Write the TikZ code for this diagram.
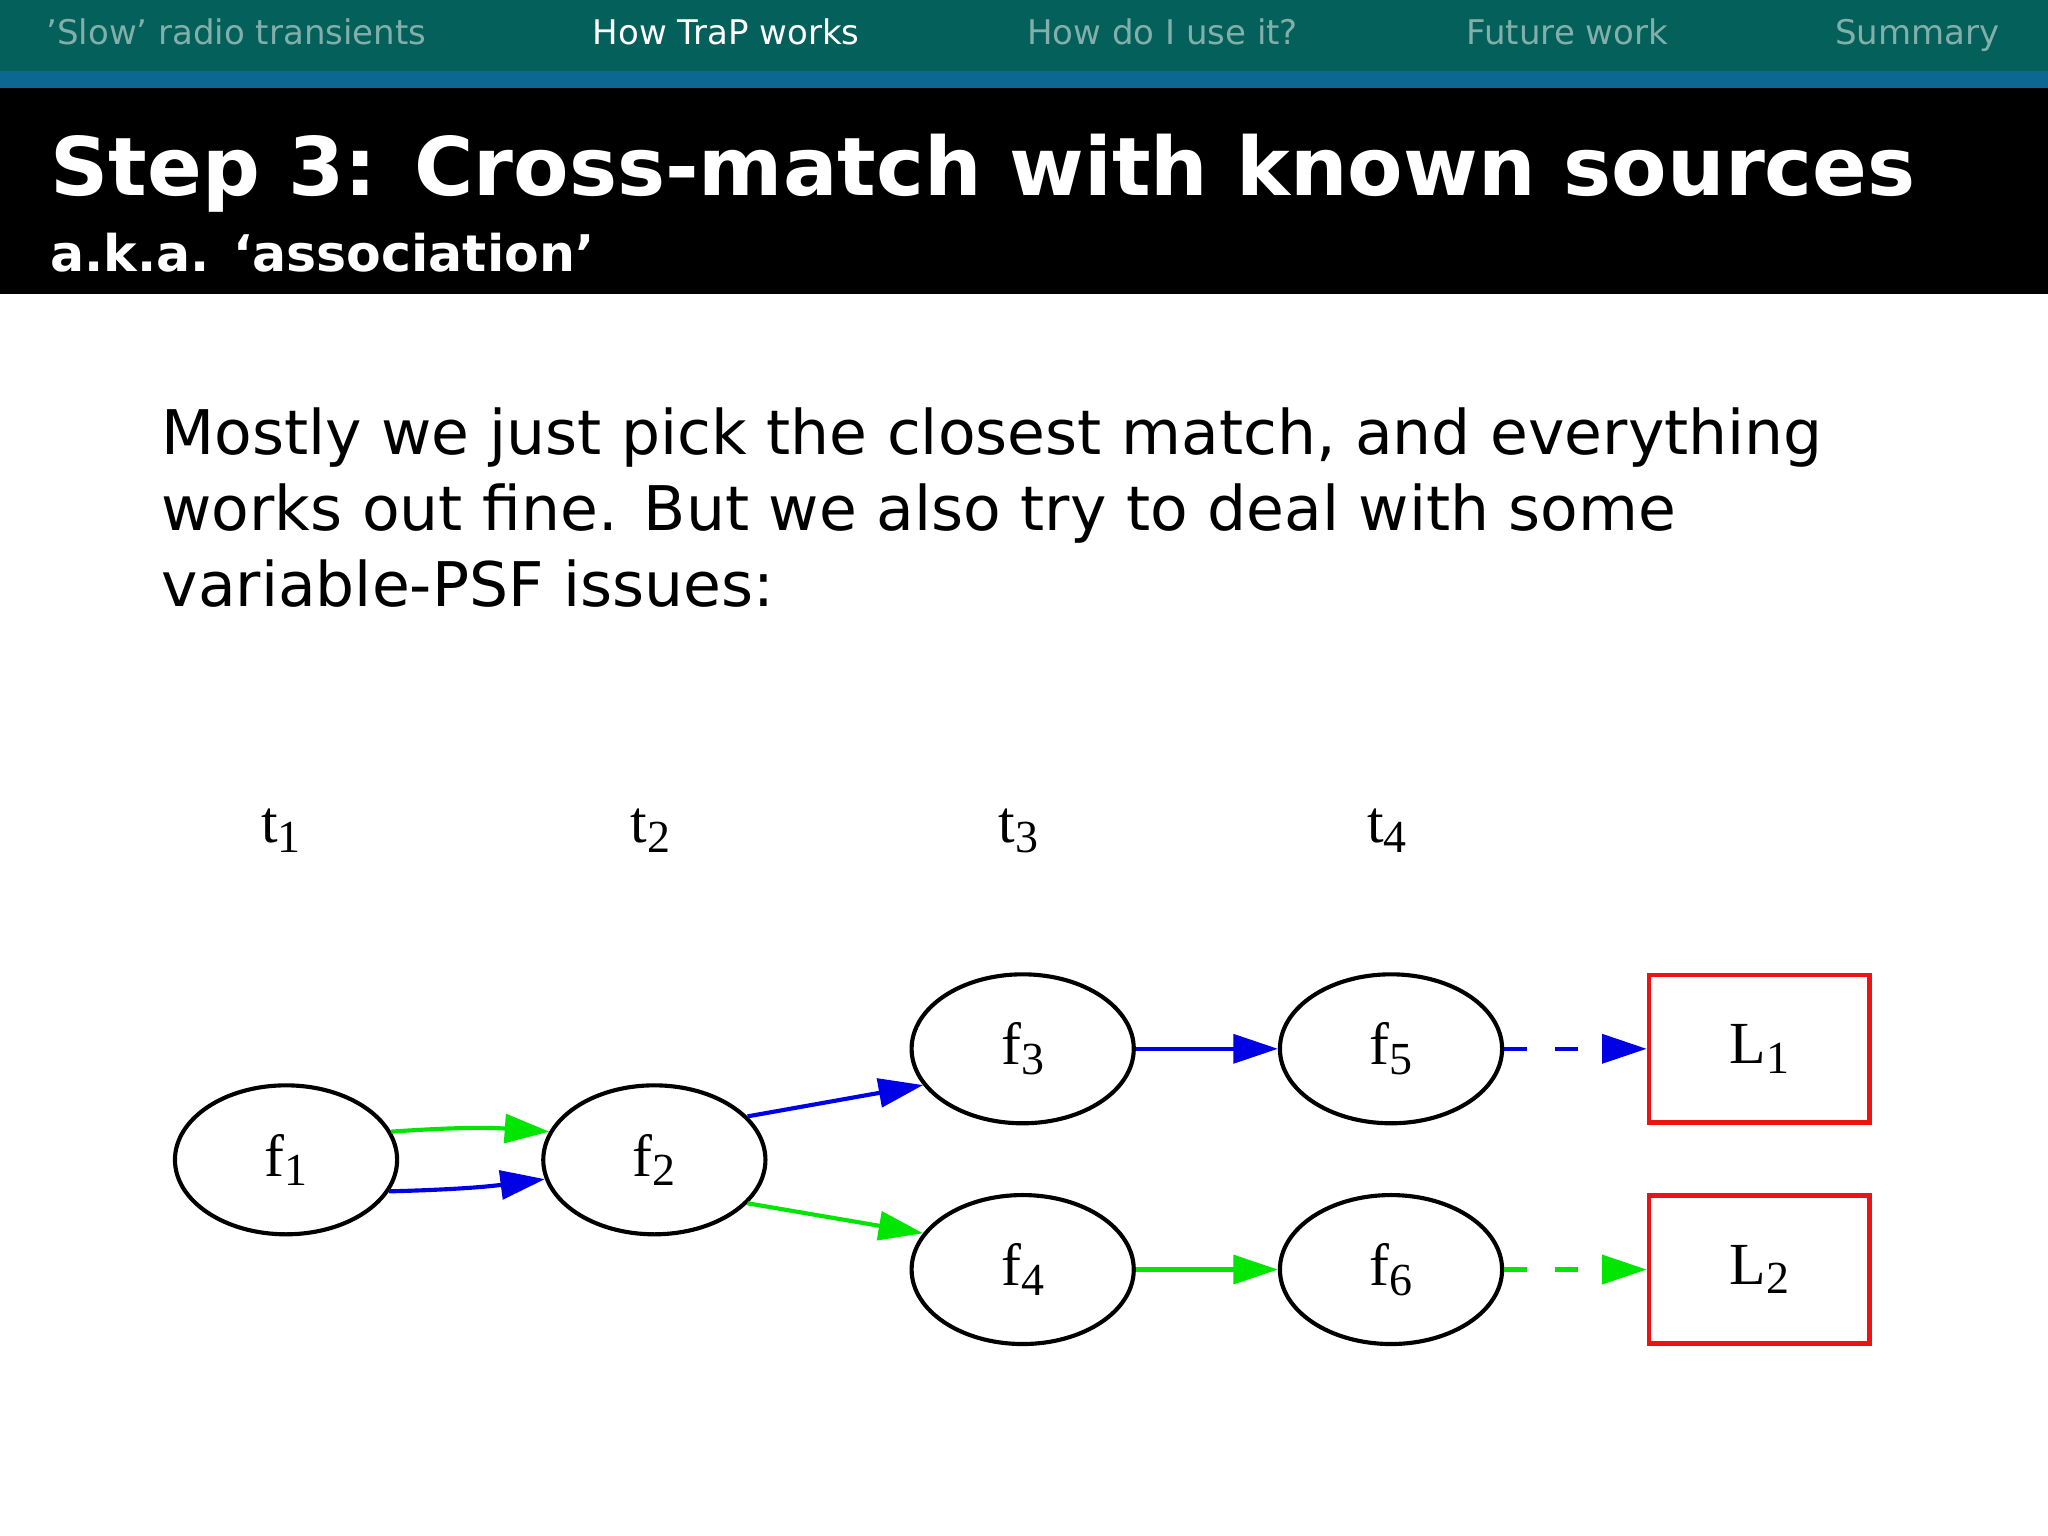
\documentclass[tikz,border=0pt]{standalone}
\usepackage{fontspec}
\setmainfont{DejaVu Sans}
\newfontfamily\serf{Liberation Serif}
\usetikzlibrary{shapes.geometric,arrows.meta}
\definecolor{navbg}{RGB}{4,96,90}
\definecolor{navstrip}{RGB}{12,104,146}
\definecolor{navtxt}{RGB}{130,175,170}
\definecolor{gr}{RGB}{0,230,0}
\definecolor{bl}{RGB}{0,0,230}
\definecolor{lred}{RGB}{235,20,20}
\newcommand{\sbs}[1]{\raisebox{-0.35ex}{\fontsize{10}{10}\selectfont #1}}
\tikzset{
 ell/.style={ellipse,draw,line width=0.9pt,minimum width=1.7cm,minimum height=1.14cm,inner sep=0pt,font=\serf\fontsize{13}{13}\selectfont},
 lbox/.style={rectangle,draw=lred,line width=1pt,minimum width=1.69cm,minimum height=1.13cm,inner sep=0pt,font=\serf\fontsize{13}{13}\selectfont},
 tlab/.style={font=\serf\fontsize{13}{13}\selectfont},
 arr/.style={line width=0.9pt,-{Triangle[length=0.34cm,width=0.22cm]}},
 nav/.style={anchor=base,text=navtxt,font=\fontsize{7.4}{8}\selectfont}
}
\begin{document}
\begin{tikzpicture}[x=0.01cm,y=-0.01cm]
\useasboundingbox (0,0) rectangle (1568,1176);
\fill[white] (0,0) rectangle (1568,1176);
\fill[navbg] (0,0) rectangle (1568,54);
\fill[navstrip] (0,54) rectangle (1568,67);
\fill[black] (0,67) rectangle (1568,225);
\node[nav] (n1) at (181,34) {’Slow’ radio transients};
\node[nav,text=white] (n2) at (556,34) {How TraP works};
\node[nav] (n3) at (890,34) {How do I use it?};
\node[nav] (n4) at (1200,34) {Future work};
\node[nav] (n5) at (1468,34) {Summary};
\node[anchor=base west,text=white,font=\bfseries\fontsize{17.6}{18}\selectfont,inner sep=0pt] (title) at (38,150) {Step 3: Cross-match with known sources};
\node[anchor=base west,text=white,font=\bfseries\fontsize{11}{11}\selectfont,inner sep=0pt] (sub) at (38,208) {a.k.a. ‘association’};
\node[anchor=base west,inner sep=0pt,font=\fontsize{13.4}{16}\selectfont] (b1) at (123,348) {Mostly we just pick the closest match, and everything};
\node[anchor=base west,inner sep=0pt,font=\fontsize{13.4}{16}\selectfont] (b2) at (123,406) {works out fine. But we also try to deal with some};
\node[anchor=base west,inner sep=0pt,font=\fontsize{13.4}{16}\selectfont] (b3) at (123,464) {variable-PSF issues:};
\node[tlab] (t1) at (215,636) {t\sbs{1}};
\node[tlab] (t2) at (498,636) {t\sbs{2}};
\node[tlab] (t3) at (780,636) {t\sbs{3}};
\node[tlab] (t4) at (1062,636) {t\sbs{4}};
\node[ell] (f1) at (219,888) {f\sbs{1}};
\node[ell] (f2) at (501,888) {f\sbs{2}};
\node[ell] (f3) at (783,803) {f\sbs{3}};
\node[ell] (f4) at (783,972) {f\sbs{4}};
\node[ell] (f5) at (1065,803) {f\sbs{5}};
\node[ell] (f6) at (1065,972) {f\sbs{6}};
\node[lbox] (L1) at (1347,803) {L\sbs{1}};
\node[lbox] (L2) at (1347,972) {L\sbs{2}};
\draw[arr,gr] (f1.15) to[bend left=4] (f2.165);
\draw[arr,bl] (f1.-17) to[bend right=3] (f2.-170);
\draw[arr,bl] (f2.25) -- (f3.200);
\draw[arr,gr] (f2.-25) -- (f4.160);
\draw[arr,bl] (f3) -- (f5);
\draw[arr,gr] (f4) -- (f6);
\draw[arr,bl,dash pattern=on 5pt off 6pt] (f5) -- (L1);
\draw[arr,gr,dash pattern=on 5pt off 6pt] (f6) -- (L2);
\end{tikzpicture}
\end{document}
